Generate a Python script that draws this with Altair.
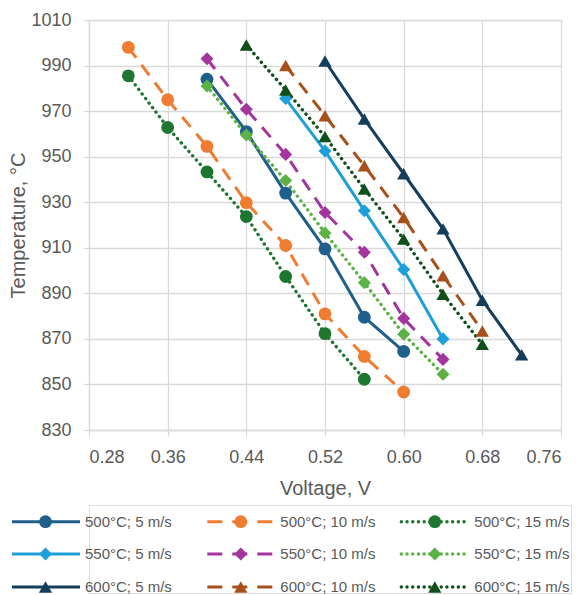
import altair as alt
import pandas as pd

temps = ["500°C", "550°C", "600°C"]
speeds = ["5 m/s", "10 m/s", "15 m/s"]

# Voltage (V) and temperature (°C), per series
v_500_5 = [0.40, 0.44, 0.48, 0.52, 0.56, 0.60]
t_500_5 = [984.0, 961.0, 934.0, 909.5, 879.5, 864.5]
v_500_10 = [0.32, 0.36, 0.40, 0.44, 0.48, 0.52, 0.56, 0.60]
t_500_10 = [998.0, 975.0, 954.5, 929.8, 911.0, 881.0, 862.3, 846.7]
v_500_15 = [0.32, 0.36, 0.40, 0.44, 0.48, 0.52, 0.56]
t_500_15 = [985.5, 962.8, 943.3, 923.7, 897.4, 872.3, 852.3]
v_550_5 = [0.48, 0.52, 0.56, 0.60, 0.64]
t_550_5 = [975.5, 952.5, 926.3, 900.5, 870.0]
v_550_10 = [0.40, 0.44, 0.48, 0.52, 0.56, 0.60, 0.64]
t_550_10 = [993.0, 970.8, 951.0, 925.5, 908.0, 879.0, 861.0]
v_550_15 = [0.40, 0.44, 0.48, 0.52, 0.56, 0.60, 0.64]
t_550_15 = [981.0, 959.5, 939.5, 916.5, 894.7, 872.0, 854.5]
v_600_5 = [0.52, 0.56, 0.60, 0.64, 0.68, 0.72]
t_600_5 = [992.0, 966.5, 942.5, 918.3, 887.0, 863.0]
v_600_10 = [0.48, 0.52, 0.56, 0.60, 0.64, 0.68]
t_600_10 = [990.0, 968.0, 946.0, 923.3, 897.7, 873.5]
v_600_15 = [0.44, 0.48, 0.52, 0.56, 0.60, 0.64, 0.68]
t_600_15 = [999.0, 979.3, 958.8, 935.8, 913.8, 889.6, 867.6]

x_ticks = [0.28, 0.36, 0.44, 0.52, 0.60, 0.68, 0.76]
y_ticks = [830, 850, 870, 890, 910, 930, 950, 970, 990, 1010]

series_data = {
    ("500°C", "5 m/s"): (v_500_5, t_500_5),
    ("500°C", "10 m/s"): (v_500_10, t_500_10),
    ("500°C", "15 m/s"): (v_500_15, t_500_15),
    ("550°C", "5 m/s"): (v_550_5, t_550_5),
    ("550°C", "10 m/s"): (v_550_10, t_550_10),
    ("550°C", "15 m/s"): (v_550_15, t_550_15),
    ("600°C", "5 m/s"): (v_600_5, t_600_5),
    ("600°C", "10 m/s"): (v_600_10, t_600_10),
    ("600°C", "15 m/s"): (v_600_15, t_600_15),
}

series_names = [f"{t}; {s}" for t in temps for s in speeds]
series_colors = ["#1F5F8B", "#EE7D31", "#1E7631",
                 "#1E9FD9", "#A3359E", "#5CB245",
                 "#153E5C", "#A8501C", "#104E1A"]

rows = []
for (t, s), (vs, ts) in series_data.items():
    for i, (vv, tt) in enumerate(zip(vs, ts)):
        rows.append({"series": f"{t}; {s}", "temp": t, "speed": s,
                     "v": vv, "T": tt, "i": i})
df = pd.DataFrame(rows)

TEXT = "#595959"
GRID = "#D9D9D9"
W, H = 472, 410

color = alt.Color("series:N", scale=alt.Scale(domain=series_names, range=series_colors), legend=None)
shape = alt.Shape("temp:N", scale=alt.Scale(domain=temps, range=["circle", "diamond", "triangle-up"]), legend=None)
size = alt.Size("temp:N", scale=alt.Scale(domain=temps, range=[165, 175, 175]), legend=None)

xenc = alt.X("v:Q", scale=alt.Scale(domain=[0.28, 0.76], nice=False, zero=False),
             axis=alt.Axis(values=x_ticks, format=".2f", title="Voltage, V",
                           grid=True, gridColor=GRID, gridWidth=1.3,
                           domainColor=GRID, domainWidth=1.3,
                           tickColor=GRID, tickWidth=1.3, tickSize=6,
                           labelFontSize=18, labelColor=TEXT, labelPadding=12,
                           titleFontSize=20, titleColor=TEXT, titleFontWeight="normal",
                           titlePadding=12))
yenc = alt.Y("T:Q", scale=alt.Scale(domain=[830, 1010], nice=False, zero=False),
             axis=alt.Axis(values=y_ticks, format="d", title="Temperature, °C",
                           grid=True, gridColor=GRID, gridWidth=1.3,
                           domainColor=GRID, domainWidth=1.3,
                           tickColor=GRID, tickWidth=1.3, tickSize=6,
                           labelFontSize=18, labelColor=TEXT, labelPadding=12,
                           titleFontSize=20, titleColor=TEXT, titleFontWeight="normal",
                           titlePadding=2))

base = alt.Chart(df).encode(x=xenc, y=yenc, color=color, order="i:Q")

solid = base.transform_filter(alt.datum.speed == "5 m/s").mark_line(strokeWidth=3)
dashed = base.transform_filter(alt.datum.speed == "10 m/s").mark_line(strokeWidth=3, strokeDash=[13, 9])
dotted = base.transform_filter(alt.datum.speed == "15 m/s").mark_line(
    strokeWidth=3.4, strokeDash=[0.1, 5.6], strokeCap="round")
points = base.mark_point(filled=True, opacity=1).encode(shape=shape, size=size)

main = alt.layer(solid, dashed, dotted, points).properties(width=W, height=H)

# Legend panel (page-pixel layout mapped through its own linear scales)
PLOT_LEFT = 88.7
LEG_W = 482
LEG_TOP = 505
LEG_H = 88
col_x0 = [11.7, 207.0, 401.0]
row_y = [521.7, 554.0, 587.0]
leg_rows = []
for ti, t in enumerate(temps):
    for si, s in enumerate(speeds):
        x0 = col_x0[si]
        leg_rows.append({"series": f"{t}; {s}", "temp": t, "speed": s,
                         "x0": x0, "x1": x0 + 68, "xm": x0 + 33.5,
                         "xt": x0 + 73, "y": row_y[ti]})
leg_df = pd.DataFrame(leg_rows)

lx = alt.Scale(domain=[PLOT_LEFT, PLOT_LEFT + LEG_W], range=[0, LEG_W])
ly = alt.Scale(domain=[LEG_TOP, LEG_TOP + LEG_H], range=[0, LEG_H])
lbase = alt.Chart(leg_df).encode(y=alt.Y("y:Q", scale=ly, axis=None), color=color)
lsolid = lbase.transform_filter(alt.datum.speed == "5 m/s").mark_rule(strokeWidth=3).encode(
    x=alt.X("x0:Q", scale=lx, axis=None), x2="x1:Q")
ldashed = lbase.transform_filter(alt.datum.speed == "10 m/s").mark_rule(
    strokeWidth=3, strokeDash=[15, 10]).encode(x=alt.X("x0:Q", scale=lx, axis=None), x2="x1:Q")
ldotted = lbase.transform_filter(alt.datum.speed == "15 m/s").mark_rule(
    strokeWidth=3.4, strokeDash=[0.1, 5.6], strokeCap="round").encode(
    x=alt.X("x0:Q", scale=lx, axis=None), x2="x1:Q")
lpoints = lbase.mark_point(filled=True, opacity=1).encode(
    x=alt.X("xm:Q", scale=lx, axis=None), shape=shape, size=size)
ltext = lbase.mark_text(align="left", baseline="middle", fontSize=15, color=TEXT).encode(
    x=alt.X("xt:Q", scale=lx, axis=None), text="series:N", color=alt.value(TEXT))

legend = alt.layer(lsolid, ldashed, ldotted, lpoints, ltext).properties(
    width=LEG_W, height=LEG_H)

chart = alt.vconcat(main, legend, spacing=5).properties(
    padding={"left": 0, "top": 2, "right": 0, "bottom": 0}
).configure_view(stroke=None).configure(font="Liberation Sans")

chart.save("out.html", embed_options={"renderer": "svg", "actions": False})
